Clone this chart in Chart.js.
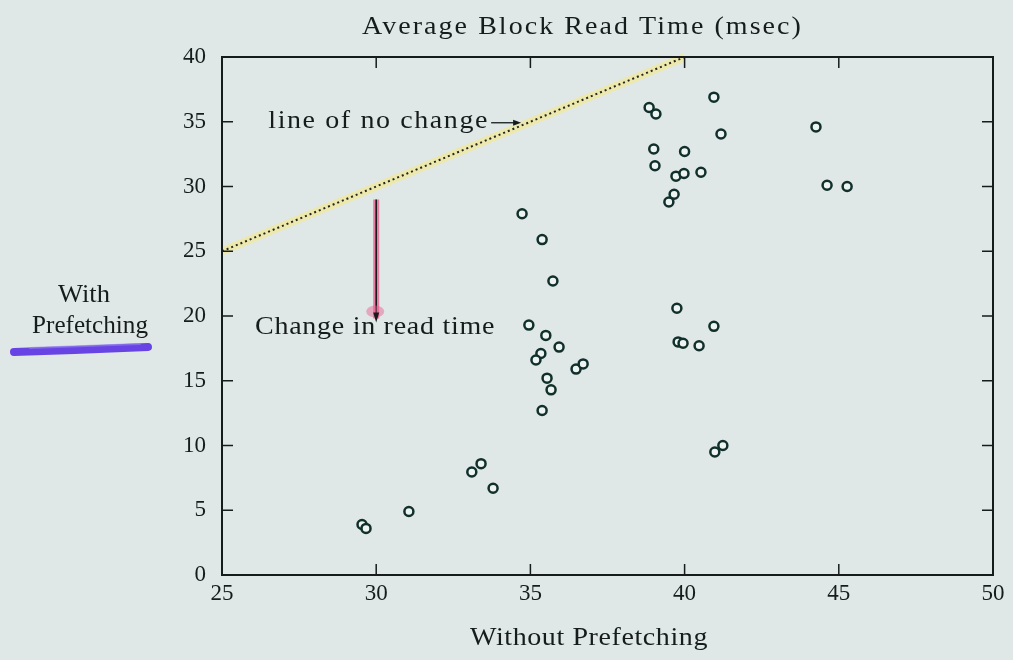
<!DOCTYPE html>
<html lang="en">
<head>
    <meta charset="UTF-8">
    <title>Average Block Read Time</title>
    <script src="https://cdn.jsdelivr.net/npm/chart.js"></script>
    <style>
        body {
            margin: 0;
            padding: 0;
            background: #dfe8e7;
        }
        .wrap {
            width: 1013px;
            height: 660px;
        }
    </style>
</head>
<body>
    <div class="wrap"><canvas id="chart"></canvas></div>
    <script>
        // without prefetching (x) vs with prefetching (y), msec
        const withoutPrefetch = [38.85, 39.07, 40.95, 41.18, 44.26, 39.0, 40.0, 39.04, 39.72, 39.98, 40.53, 39.66, 39.49, 44.62, 45.27,
            34.73, 35.38, 35.73, 34.95, 35.5, 35.93, 35.34, 35.18, 36.48, 36.71, 35.54, 35.67, 35.38,
            39.75, 40.95, 39.79, 39.95, 40.47, 40.98, 41.24,
            29.54, 29.67, 31.06, 33.1, 33.4, 33.79];
        const withPrefetch = [36.1, 35.6, 36.9, 34.05, 34.6, 32.9, 32.7, 31.6, 30.8, 31.0, 31.1, 29.4, 28.8, 30.1, 30.0,
            27.9, 25.9, 22.7, 19.3, 18.5, 17.6, 17.1, 16.6, 15.9, 16.3, 15.2, 14.3, 12.7,
            20.6, 19.2, 18.0, 17.9, 17.7, 9.5, 10.0,
            3.9, 3.6, 4.9, 7.95, 8.6, 6.7];
        const noChangeLine = [25, 40];          // y = x from 25 to 40
        const changeArrowX = 30;
        const changeArrowY = [29, 19.8];
        const xTicks = [25, 30, 35, 40, 45, 50];
        const yTicks = [0, 5, 10, 15, 20, 25, 30, 35, 40];

        const serif = '"Liberation Serif", "DejaVu Serif", serif';
        const ink = '#161c1c';

        const points = withoutPrefetch.map((x, i) => ({ x: x, y: withPrefetch[i] }));
        const diag = noChangeLine.map(v => ({ x: v, y: v }));
        const arrow = changeArrowY.map(v => ({ x: changeArrowX, y: v }));

        // the original was typeset in wide TeX fonts: stretch glyphs a bit, then spread to target width
        function wideText(ctx, text, left, y, width) {
            ctx.save();
            ctx.letterSpacing = '0px';
            ctx.textAlign = 'left';
            const plain = ctx.measureText(text).width;
            const sx = Math.min(1.12, width / plain);
            const gap = Math.max(0, (width / sx - plain) / text.length);
            ctx.letterSpacing = gap.toFixed(2) + 'px';
            ctx.translate(left, y);
            ctx.scale(sx, 1);
            ctx.fillText(text, 0, 0);
            ctx.restore();
        }

        const decorations = {
            id: 'decorations',
            beforeDraw(chart) {
                const ctx = chart.ctx;
                ctx.save();
                ctx.fillStyle = '#dfe8e7';
                ctx.fillRect(0, 0, chart.width, chart.height);
                ctx.restore();
            },
            afterDatasetsDraw(chart) {
                const ctx = chart.ctx;
                const a = chart.chartArea;
                const xs = chart.scales.x, ys = chart.scales.y;
                ctx.save();

                // frame
                ctx.strokeStyle = ink;
                ctx.lineWidth = 2;
                ctx.strokeRect(a.left, a.top, a.right - a.left, a.bottom - a.top);

                // inward ticks on all sides
                ctx.lineWidth = 1.5;
                const t = 11;
                ctx.beginPath();
                xTicks.forEach(v => {
                    const px = xs.getPixelForValue(v);
                    ctx.moveTo(px, a.bottom); ctx.lineTo(px, a.bottom - t);
                    ctx.moveTo(px, a.top); ctx.lineTo(px, a.top + t);
                });
                yTicks.forEach(v => {
                    const py = ys.getPixelForValue(v);
                    ctx.moveTo(a.left, py); ctx.lineTo(a.left + t, py);
                    ctx.moveTo(a.right, py); ctx.lineTo(a.right - t, py);
                });
                ctx.stroke();

                // arrow head on change arrow, with the pink marker blob
                const ax = xs.getPixelForValue(changeArrowX);
                const ay = ys.getPixelForValue(changeArrowY[1]);
                ctx.fillStyle = 'rgba(235, 90, 140, 0.45)';
                ctx.beginPath();
                ctx.ellipse(ax - 1, ay - 7, 9, 6, 0, 0, Math.PI * 2);
                ctx.fill();
                ctx.fillStyle = ink;
                ctx.beginPath();
                ctx.moveTo(ax, ay + 4);
                ctx.lineTo(ax - 3, ay - 6);
                ctx.lineTo(ax + 3, ay - 6);
                ctx.closePath();
                ctx.fill();

                // annotations
                ctx.font = '25px ' + serif;
                ctx.textBaseline = 'middle';
                const lx = xs.getPixelForValue(26.5), ly = ys.getPixelForValue(35);
                const ex = xs.getPixelForValue(34.7);
                wideText(ctx, 'line of no change', lx, ly, ex - lx - 32);
                ctx.lineWidth = 1.3;
                ctx.beginPath();
                ctx.moveTo(ex - 30, ly + 1);
                ctx.lineTo(ex - 4, ly + 1);
                ctx.stroke();
                ctx.beginPath();
                ctx.moveTo(ex, ly + 1);
                ctx.lineTo(ex - 8, ly - 2);
                ctx.lineTo(ex - 8, ly + 4);
                ctx.closePath();
                ctx.fill();

                wideText(ctx, 'Change in read time', xs.getPixelForValue(26.07), ys.getPixelForValue(19.15), 240);

                // titles
                wideText(ctx, 'Average Block Read Time (msec)', 362, 27, 441);
                wideText(ctx, 'Without Prefetching', 470, 638, 238);
                wideText(ctx, 'With', 58, 295, 52);
                wideText(ctx, 'Prefetching', 32, 326, 116);

                // purple marker stroke under the y label
                ctx.strokeStyle = 'rgba(92, 50, 228, 0.9)';
                ctx.lineCap = 'round';
                ctx.lineWidth = 8;
                ctx.beginPath();
                ctx.moveTo(14, 352);
                ctx.quadraticCurveTo(80, 350, 148, 347);
                ctx.stroke();
                ctx.strokeStyle = 'rgba(150, 130, 240, 0.6)';
                ctx.lineWidth = 2;
                ctx.beginPath();
                ctx.moveTo(30, 348);
                ctx.lineTo(140, 344);
                ctx.stroke();
                ctx.restore();
            }
        };

        new Chart(document.getElementById('chart'), {
            type: 'scatter',
            data: {
                datasets: [
                    {
                        data: points,
                        pointRadius: 4.5,
                        pointBorderWidth: 2.5,
                        borderColor: '#11302b',
                        backgroundColor: '#eef4f2',
                        order: 1
                    },
                    {
                        type: 'line',
                        data: diag,
                        borderColor: '#26261c',
                        borderWidth: 2,
                        borderDash: [2, 3],
                        pointRadius: 0,
                        clip: false,
                        order: 2
                    },
                    {
                        type: 'line',
                        data: diag,
                        borderColor: 'rgba(240, 232, 160, 0.8)',
                        borderWidth: 8,
                        pointRadius: 0,
                        clip: false,
                        order: 4
                    },
                    {
                        type: 'line',
                        data: arrow,
                        borderColor: ink,
                        borderWidth: 1.6,
                        pointRadius: 0,
                        order: 2
                    },
                    {
                        type: 'line',
                        data: arrow,
                        borderColor: 'rgba(235, 90, 140, 0.75)',
                        borderWidth: 6,
                        pointRadius: 0,
                        order: 4
                    }
                ]
            },
            options: {
                responsive: true,
                maintainAspectRatio: false,
                animation: false,
                layout: { padding: { left: 0, right: 20, top: 57, bottom: 0 } },
                plugins: {
                    legend: { display: false },
                    tooltip: { enabled: false }
                },
                scales: {
                    x: {
                        type: 'linear',
                        min: 25,
                        max: 50,
                        afterBuildTicks: s => { s.ticks = xTicks.map(v => ({ value: v })); },
                        afterFit: s => { s.height = 85; },
                        grid: { display: false, drawTicks: false },
                        border: { display: false },
                        ticks: { color: ink, padding: 5, font: { family: serif, size: 23 } }
                    },
                    y: {
                        type: 'linear',
                        min: 0,
                        max: 40,
                        afterBuildTicks: s => { s.ticks = yTicks.map(v => ({ value: v })); },
                        afterFit: s => { s.width = 222; },
                        grid: { display: false, drawTicks: false },
                        border: { display: false },
                        ticks: { color: ink, padding: 16, font: { family: serif, size: 23 } }
                    }
                }
            },
            plugins: [decorations]
        });
    </script>
</body>
</html>
